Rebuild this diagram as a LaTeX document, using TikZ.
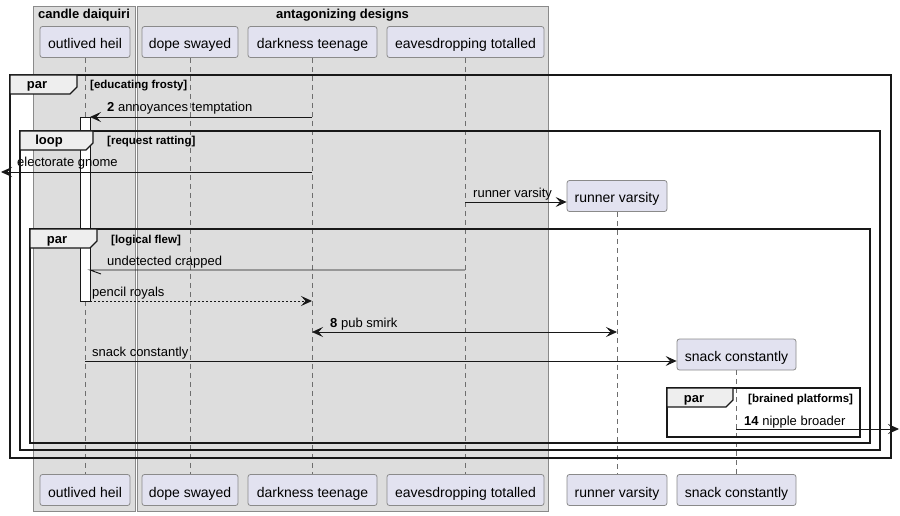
\documentclass[tikz,border=0pt]{standalone}
\usepackage{fontspec}
\setmainfont{Liberation Sans}
\usetikzlibrary{arrows.meta}
\definecolor{grpfill}{HTML}{DDDDDD}
\definecolor{grpline}{HTML}{8A8A8A}
\definecolor{partfill}{HTML}{E2E2F0}
\definecolor{partline}{HTML}{8A8A8A}
\definecolor{tabfill}{HTML}{EEEEEE}
\definecolor{lifecol}{HTML}{6E6E6E}
\definecolor{ink}{HTML}{181818}
\tikzset{
  x=1pt, y=-1pt,
  grp/.style={draw=grpline, fill=grpfill, line width=0.8pt},
  grptitle/.style={font=\fontsize{13}{15}\selectfont\bfseries, anchor=base, inner sep=0pt},
  part/.style={draw=partline, fill=partfill, rounded corners=2.5pt, line width=0.8pt,
    minimum height=31pt, inner sep=0pt, text depth=0pt, text height=14pt,
    font=\fontsize{14}{16}\selectfont},
  lifeline/.style={draw=lifecol, line width=0.7pt, dash pattern=on 5pt off 4pt},
  actbox/.style={draw=ink, fill=white, line width=0.9pt},
  frm/.style={draw=ink, line width=1.5pt},
  tabshape/.style={draw=ink, fill=tabfill, line width=1.2pt},
  tablabel/.style={font=\fontsize{13}{15}\selectfont\bfseries, anchor=base, inner sep=0pt},
  guard/.style={font=\fontsize{11.5}{13}\selectfont\bfseries, anchor=base west, inner sep=0pt},
  msg/.style={font=\fontsize{13}{15}\selectfont, anchor=base west, inner sep=0pt},
  tip/.style={Stealth[length=11pt,width=10pt,inset=4.5pt]},
  arr/.style={draw=ink, line width=0.9pt, -{Stealth[length=11pt,width=10pt,inset=4.5pt]}},
  arrboth/.style={draw=ink, line width=0.9pt, {Stealth[length=11pt,width=10pt,inset=4.5pt]}-{Stealth[length=11pt,width=10pt,inset=4.5pt]}},
}
\begin{document}
\begin{tikzpicture}
\useasboundingbox (0,0) rectangle (900,516);

% groups of participants
\draw[grp] (33,6) rectangle (135,511);
\draw[grp] (137,6) rectangle (548,511);
\node[grptitle] (g1) at (84,19) {candle daiquiri};
\node[grptitle] (g2) at (342.5,19) {antagonizing designs};

% participants, top row
\node[part, minimum width=90pt]  (ohT) at (85,42)    {outlived heil};
\node[part, minimum width=96pt]  (dsT) at (190,42)   {dope swayed};
\node[part, minimum width=129pt] (dtT) at (312.5,42) {darkness teenage};
\node[part, minimum width=157pt] (etT) at (465.5,42) {eavesdropping totalled};
\node[part, minimum width=100pt] (rvT) at (617,196)  {runner varsity};
\node[part, minimum width=119pt] (scT) at (736.5,354.5) {snack constantly};

% participants, bottom row
\node[part, minimum width=90pt]  (ohB) at (85,490)    {outlived heil};
\node[part, minimum width=96pt]  (dsB) at (190,490)   {dope swayed};
\node[part, minimum width=129pt] (dtB) at (312.5,490) {darkness teenage};
\node[part, minimum width=157pt] (etB) at (465.5,490) {eavesdropping totalled};
\node[part, minimum width=100pt] (rvB) at (617,490)   {runner varsity};
\node[part, minimum width=119pt] (scB) at (736.5,490) {snack constantly};

% lifelines
\draw[lifeline] (ohT.south) -- (ohB.north);
\draw[lifeline] (dsT.south) -- (dsB.north);
\draw[lifeline] (dtT.south) -- (dtB.north);
\draw[lifeline] (etT.south) -- (etB.north);
\draw[lifeline] (rvT.south) -- (rvB.north);
\draw[lifeline] (scT.south) -- (scB.north);

% activation of outlived heil
\draw[actbox] (80,117) rectangle (90,301);

% message end points
\coordinate (a1) at (312,117);  \coordinate (b1) at (90,117);
\coordinate (a2) at (312,172);  \coordinate (lostL) at (1,172);
\coordinate (a3) at (465,202);  \coordinate (b3) at (rvT.west |- a3);
\coordinate (a4) at (465,270);  \coordinate (b4) at (90,270);
\coordinate (a5) at (90,301);   \coordinate (b5) at (312,301);
\coordinate (a6) at (312,332);  \coordinate (b6) at (617,332);
\coordinate (a7) at (85,361);   \coordinate (b7) at (scT.west |- a7);
\coordinate (a8) at (736,429);  \coordinate (lostR) at (899,429);

% messages
\draw[arr] (a1) -- (b1);
\node[msg] (t1) at (107,112) {\textbf{2} annoyances temptation};

\draw[arr] (a2) -- (lostL);
\node[msg] (t2) at (17,167) {electorate gnome};

\draw[arr] (a3) -- (b3);
\node[msg] (t3) at (473,197) {runner varsity};

\draw[draw=ink, line width=0.9pt] (a4) -- (b4) -- ++(11,4);
\node[msg] (t4) at (107,265) {undetected crapped};

\draw[arr, dash pattern=on 2pt off 2pt] (a5) -- (b5);
\node[msg] (t5) at (92,296) {pencil royals};

\draw[arrboth] (a6) -- (b6);
\node[msg] (t6) at (330,327) {\textbf{8} pub smirk};

\draw[arr] (a7) -- (b7);
\node[msg] (t7) at (92,356) {snack constantly};

\draw[arr] (a8) -- (lostR);
\node[msg] (t8) at (744,425) {\textbf{14} nipple broader};

% combined fragments
\draw[frm] (10,75) rectangle (891,458);
\draw[tabshape] (10,75) -- (77,75) -- (77,87) -- (70,94) -- (10,94) -- cycle;
\node[tablabel] (f1) at (37,89) {par};
\node[guard] (f1g) at (90,89) {[educating frosty]};

\draw[frm] (20,131) rectangle (880,450);
\draw[tabshape] (20,131) -- (93,131) -- (93,143) -- (86,150) -- (20,150) -- cycle;
\node[tablabel] (f2) at (49,145) {loop};
\node[guard] (f2g) at (107,145) {[request ratting]};

\draw[frm] (30,229) rectangle (870,443);
\draw[tabshape] (30,229) -- (97,229) -- (97,241) -- (90,248) -- (30,248) -- cycle;
\node[tablabel] (f3) at (57,243) {par};
\node[guard] (f3g) at (111,243) {[logical flew]};

\draw[frm] (667,388) rectangle (860,437);
\draw[tabshape] (667,388) -- (733,388) -- (733,400) -- (726,407) -- (667,407) -- cycle;
\node[tablabel] (f4) at (694,402) {par};
\node[guard] (f4g) at (748,402) {[brained platforms]};
\end{tikzpicture}
\end{document}
